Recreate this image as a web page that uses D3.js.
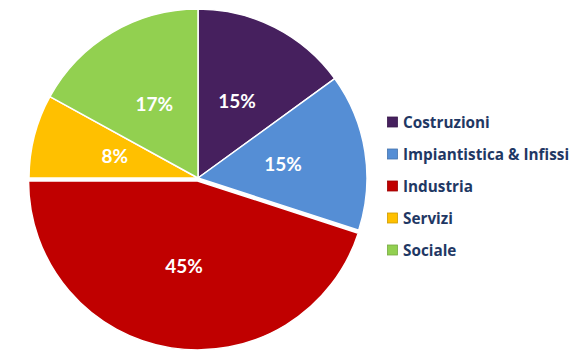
<!DOCTYPE html>
<html>
<head>
<meta charset="utf-8">
<script src="https://cdn.jsdelivr.net/npm/d3@7"></script>
<style>
  html, body { margin: 0; padding: 0; background: #fff; }
  svg { display: block; }
</style>
</head>
<body>
<svg id="chart" width="583" height="364"></svg>
<script>
const categories = ["Costruzioni", "Impiantistica & Infissi", "Industria", "Servizi", "Sociale"];
const values = [15, 15, 45, 8, 17];
const colors = ["#46205e", "#558ed5", "#c00000", "#ffc000", "#92d050"];
const exploded = [0, 0, 3, 0, 0];

const svg = d3.select("#chart");
const cx = 198, cy = 178, r = 169;

const data = categories.map((c, i) => ({ cat: c, value: values[i], color: colors[i], explode: exploded[i] }));

const pie = d3.pie().value(d => d.value).sort(null);
const arcs = pie(data);
const arc = d3.arc().innerRadius(0).outerRadius(r);
const labelArc = d3.arc().innerRadius(86).outerRadius(86);

const g = svg.append("g").attr("transform", `translate(${cx},${cy})`);

const slice = g.selectAll("g.slice").data(arcs).enter().append("g")
  .attr("class", "slice")
  .attr("transform", d => {
    const a = (d.startAngle + d.endAngle) / 2;
    const e = d.data.explode;
    return `translate(${Math.sin(a) * e},${-Math.cos(a) * e})`;
  });

slice.append("path")
  .attr("d", arc)
  .attr("fill", d => d.data.color)
  .attr("stroke", "#fff")
  .attr("stroke-width", 1.5)
  .attr("stroke-linejoin", "round");

slice.append("text")
  .attr("transform", d => `translate(${labelArc.centroid(d)})`)
  .attr("text-anchor", "middle")
  .attr("dy", "0.36em")
  .attr("fill", "#fff")
  .attr("font-family", "Lato, 'Open Sans', sans-serif")
  .attr("font-weight", "bold")
  .attr("font-size", 19)
  .text(d => d.data.value + "%");

const legend = svg.append("g").attr("transform", "translate(387,122)");
const rowH = 32;
const item = legend.selectAll("g").data(data).enter().append("g")
  .attr("transform", (d, i) => `translate(0,${i * rowH})`);
item.append("rect")
  .attr("x", 0.5).attr("y", -5)
  .attr("width", 10).attr("height", 10)
  .attr("fill", d => d.color)
  .attr("stroke", d => d3.color(d.color).darker(0.6))
  .attr("stroke-width", 0.8);
item.append("text")
  .attr("x", 16).attr("y", 0)
  .attr("dy", "0.36em")
  .attr("fill", "#1f3864")
  .attr("font-family", "'Open Sans', Lato, sans-serif")
  .attr("font-weight", "bold")
  .attr("font-size", 15.3)
  .text(d => d.cat);
</script>
</body>
</html>
